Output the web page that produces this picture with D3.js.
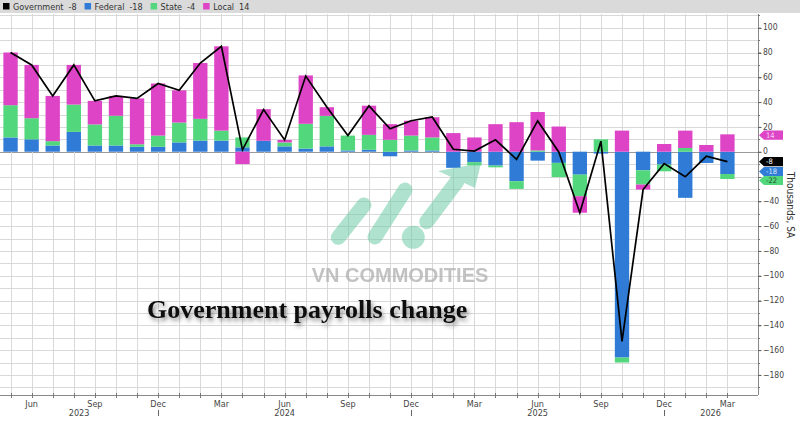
<!DOCTYPE html>
<html><head><meta charset="utf-8">
<script src="https://cdn.jsdelivr.net/npm/d3@7/dist/d3.min.js"></script>
<style>
html,body{margin:0;padding:0;background:#fff;}
svg{display:block;}
</style></head>
<body>
<svg id="c" width="800" height="441"></svg>
<script>
// ---------- DATA ----------
const months = ["2023-05","2023-06","2023-07","2023-08","2023-09","2023-10","2023-11","2023-12",
  "2024-01","2024-02","2024-03","2024-04","2024-05","2024-06","2024-07","2024-08","2024-09","2024-10","2024-11","2024-12",
  "2025-01","2025-02","2025-03","2025-04","2025-05","2025-06","2025-07","2025-08","2025-09","2025-10","2025-11","2025-12",
  "2026-01","2026-02","2026-03"];
const federal = [11.5,10,5,16,5,5,4,4, 7.5,9,9,3.5,8.8,4.3,2.5,4.3,1,1.6,-3.7,1,
  1,-13,-8.5,-11.2,-23.8,-7.2,-9,-18.5,-1.5,-166,-15,-10.4, -37.2,-9.1,-18];
const state = [26,17,3.5,22,17,24,2,9, 16,17.5,8,8,0,3.2,20,24.6,12,12,9.6,12,
  10.5,0,-2.5,-1.4,-6.2,1,-11.5,-17.4,10,-4,-11.5,-5.4, 3,0,-4];
const local = [42.5,43,36.5,32,19,16,37,42, 26,45,68,-10,25.5,2,39,7,0,23.5,12.6,12,
  16.3,15,11.5,22.2,23.8,31,20.3,-13.3,0,17,-4,6.2, 14,5.4,14];
const government = [80,70,45,70,41,45,43,55, 49.5,71.5,85,1.5,34,9.5,61,36,13,37,18.5,25,
  28,2,0.5,9.6,-6.2,24.8,-0.2,-49.2,8.5,-153,-30.5,-9.6, -20.2,-3.7,-8];
const seriesNames = ["Federal","State","Local"];
const legendNames = ["Government","Federal","State","Local"];
const legendValues = ["-8","-18","-4","14"];
const monthAbbr = ["Jan","Feb","Mar","Apr","May","Jun","Jul","Aug","Sep","Oct","Nov","Dec"];
const yearLabels = ["2023","2024","2025","2026"];
const yearLabelAt = [3.25, 13, 25, 33.2];   // month index under which year label sits
const yTicksMajor = [100,80,60,40,20,0,-40,-60,-80,-100,-120,-140,-160,-180]; // -20 sits under the value tags
const yTickMarks = d3.range(-180, 101, 20);
const yTicksMinor = d3.range(-190, 111, 10);
const title = "Government payrolls change";
const unitLabel = "Thousands, SA";

// ---------- STYLE ----------
const colors = {Government:"#000000", Federal:"#2f7bd6", State:"#52d77c", Local:"#de44c6"};
const W = 800, H = 441;
const plot = {left:0, right:758, top:14, bottom:395};
const NAR = "Liberation Sans Narrow, DejaVu Sans Condensed, Arial Narrow, sans-serif";

const svg = d3.select("#c");
const defs = svg.append("defs");
const f = defs.append("filter").attr("id","shadow").attr("x","-10%").attr("y","-30%").attr("width","120%").attr("height","180%");
f.append("feDropShadow").attr("dx",2).attr("dy",3).attr("stdDeviation",2).attr("flood-color","#333").attr("flood-opacity",0.55);

const x = d3.scaleLinear().domain([-0.5, 35.45]).range([plot.left, plot.right]);
const y = d3.scaleLinear().domain([-196.2, 111.05]).range([plot.bottom, plot.top]);
const step = x(1) - x(0);
const bw = step * 0.68;

svg.append("rect").attr("x",0).attr("y",0).attr("width",W).attr("height",H).attr("fill","#fff");

// gridlines
const g = svg.append("g");
g.selectAll("line.h").data(yTicksMinor).join("line")
  .attr("x1",plot.left).attr("x2",plot.right)
  .attr("y1",d=>Math.round(y(d))+0.5).attr("y2",d=>Math.round(y(d))+0.5)
  .attr("stroke",d=>d===0?"#9a9a9a":"#d9d9d9").attr("stroke-width",1);
g.selectAll("line.v").data(months).join("line")
  .attr("x1",(d,i)=>Math.round(x(i))+0.5).attr("x2",(d,i)=>Math.round(x(i))+0.5)
  .attr("y1",plot.top).attr("y2",plot.bottom)
  .attr("stroke","#d9d9d9").attr("stroke-width",1);

// stacked bars
const table = months.map((m,i)=>({Federal:federal[i], State:state[i], Local:local[i], i}));
const stack = d3.stack().keys(seriesNames).offset(d3.stackOffsetDiverging)(table);
svg.append("g").selectAll("g").data(stack).join("g")
  .attr("fill",d=>colors[d.key])
  .selectAll("rect").data(d=>d).join("rect")
  .attr("x",d=>x(d.data.i)-bw/2).attr("width",bw)
  .attr("y",d=>y(Math.max(d[0],d[1])))
  .attr("height",d=>Math.abs(y(d[0])-y(d[1])));

// government line
svg.append("path").datum(government)
  .attr("d", d3.line().x((d,i)=>x(i)).y(d=>y(d)))
  .attr("fill","none").attr("stroke","#000").attr("stroke-width",1.7);

// watermark
const wm = svg.append("g").attr("opacity",0.5);
const teal = "#64c8a0";
[[338.3,237.3,364,205],[375,237,405,190],[426.7,221.7,456.7,181.7]].forEach(s=>{
  wm.append("line").attr("x1",s[0]).attr("y1",s[1]).attr("x2",s[2]).attr("y2",s[3])
    .attr("stroke",teal).attr("stroke-width",15).attr("stroke-linecap","round");
});
wm.append("circle").attr("cx",413.3).attr("cy",237.3).attr("r",11.5).attr("fill",teal);
wm.append("path").attr("d","M438,171 L481,163 L475,188 Z").attr("fill",teal);
svg.append("text").attr("x",400).attr("y",281.5).attr("text-anchor","middle")
  .attr("font-family","Liberation Sans, Arial, sans-serif").attr("font-weight","bold")
  .attr("font-size",20).attr("fill","#b4b4b4").attr("opacity",0.8).text("VN COMMODITIES");

// title
svg.append("text").attr("x",147).attr("y",318)
  .attr("font-family","Liberation Serif, Times New Roman, serif").attr("font-weight","bold")
  .attr("font-size",26).attr("fill","#111").attr("filter","url(#shadow)").text(title);

// right axis
const ax = svg.append("g");
ax.append("line").attr("x1",plot.right+0.5).attr("x2",plot.right+0.5).attr("y1",plot.top).attr("y2",plot.bottom).attr("stroke","#888");
ax.selectAll("line.mi").data(yTicksMinor).join("line")
  .attr("x1",plot.right).attr("x2",plot.right+2)
  .attr("y1",d=>Math.round(y(d))+0.5).attr("y2",d=>Math.round(y(d))+0.5).attr("stroke","#777");
ax.selectAll("line.ma").data(yTickMarks).join("line")
  .attr("x1",plot.right).attr("x2",plot.right+3.5)
  .attr("y1",d=>Math.round(y(d))+0.5).attr("y2",d=>Math.round(y(d))+0.5).attr("stroke","#666");
const yAxis = d3.axisRight(y).tickValues(yTicksMajor).tickSize(3).tickPadding(2).tickFormat(d3.format("d"));
const yg = ax.append("g").attr("transform",`translate(${plot.right},0)`).call(yAxis);
yg.select(".domain").remove();
yg.selectAll(".tick line").attr("stroke","#666");
yg.selectAll(".tick text").attr("fill","#444").attr("font-size",8.5).attr("font-family",NAR).attr("dy","0.25em");

svg.append("text").attr("font-family",NAR).attr("transform","translate(787,205) rotate(90)")
  .attr("text-anchor","middle").attr("font-size",10).attr("fill","#333").text(unitLabel);

// bottom axis
const bx = svg.append("g").attr("font-family",NAR);
bx.append("line").attr("x1",plot.left).attr("x2",plot.right).attr("y1",plot.bottom+0.5).attr("y2",plot.bottom+0.5).attr("stroke","#888");
bx.selectAll("line.t").data(months).join("line")
  .attr("x1",(d,i)=>Math.round(x(i))+0.5).attr("x2",(d,i)=>Math.round(x(i))+0.5)
  .attr("y1",plot.bottom-2).attr("y2",plot.bottom+3).attr("stroke","#777");
const labelled = months.map((m,i)=>({m:+m.slice(5,7), i})).filter(d=>d.m%3===0);
bx.selectAll("text.m").data(labelled).join("text")
  .attr("x",d=>x(d.i)).attr("y",407).attr("text-anchor","middle")
  .attr("font-size",9).attr("fill","#444").text(d=>monthAbbr[d.m-1]);
bx.selectAll("text.y").data(yearLabels).join("text")
  .attr("x",(d,k)=>x(yearLabelAt[k])).attr("y",416).attr("text-anchor","middle")
  .attr("font-size",9).attr("fill","#444").text(d=>d);
bx.selectAll("line.sep").data(labelled.filter(d=>d.m===12)).join("line")
  .attr("x1",d=>Math.round(x(d.i))+0.5).attr("x2",d=>Math.round(x(d.i))+0.5)
  .attr("y1",410).attr("y2",416).attr("stroke","#666");

// right-side value tags
const last = months.length-1;
const lastStack = {};
stack.forEach(s=>{ const d=s[last]; lastStack[s.key] = (d[0] >= 0) ? d[1] : d[0]; });
const tags = [
  {v:lastStack.Local, fill:colors.Local, tc:"#f9d0f2", dy:0.8},
  {v:lastStack.Federal, fill:colors.Federal, tc:"#dbe8fb", dy:-2.5},
  {v:lastStack.State, fill:colors.State, tc:"#1d4a2a", dy:1.5},
  {v:government[last], fill:"#000", tc:"#fff", dy:0}
];
const tg = svg.append("g").attr("font-family",NAR);
tags.forEach(t=>{
  const cy = y(t.v) + t.dy, h = 4.6;
  tg.append("path").attr("d",`M${plot.right+1},${cy} L${plot.right+6},${cy-h} L${plot.right+25},${cy-h} L${plot.right+25},${cy+h} L${plot.right+6},${cy+h} Z`)
    .attr("fill",t.fill);
  tg.append("text").attr("x",plot.right+8).attr("y",cy+2.8).attr("font-size",7.5).attr("fill",t.tc)
    .text(Math.round(t.v));
});

// legend band
const lg = svg.append("g").attr("font-family",NAR);
lg.append("rect").attr("x",0).attr("y",0).attr("width",W).attr("height",13).attr("fill","#dadada");
const legendX = [3, 72, 128, 175];
let cursor = 0;
legendNames.forEach((n,k)=>{
  const x0 = Math.max(legendX[k], cursor);
  const gx = lg.append("g").attr("transform",`translate(${x0},0)`);
  gx.append("rect").attr("x",0).attr("y",3).attr("width",6.5).attr("height",6.5).attr("fill",colors[n]);
  const t1 = gx.append("text").attr("x",10).attr("y",10).attr("font-size",9).attr("fill","#333").text(n);
  const w1 = t1.node().getComputedTextLength();
  const t2 = gx.append("text").attr("x",10+w1+5).attr("y",10).attr("font-size",9).attr("fill","#333").text(legendValues[k]);
  const w2 = t2.node().getComputedTextLength();
  cursor = x0 + 10 + w1 + 5 + w2 + 8;
});
</script>
</body></html>
